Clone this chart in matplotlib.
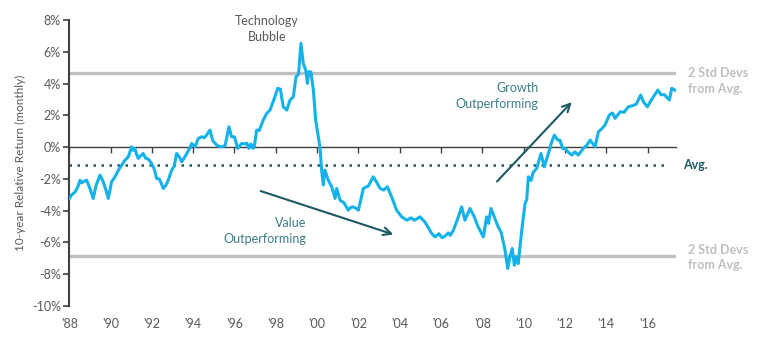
import matplotlib.pyplot as plt
from matplotlib.ticker import FuncFormatter

# ------------------------------
# Data (decimal year, % relative return)
# ------------------------------
dates = [
    1988.00, 1988.12, 1988.28, 1988.40, 1988.52, 1988.60, 1988.68, 1988.84, 1989.00, 1989.16,
    1989.30, 1989.49, 1989.65, 1989.80, 1989.89, 1990.05, 1990.20, 1990.38, 1990.55, 1990.70,
    1990.86, 1991.02, 1991.10, 1991.18, 1991.26, 1991.34, 1991.45, 1991.58, 1991.70, 1991.82,
    1991.99, 1992.12, 1992.23, 1992.35, 1992.45, 1992.55, 1992.68, 1992.79, 1992.96, 1993.08,
    1993.20, 1993.32, 1993.44, 1993.56, 1993.69, 1993.82, 1993.93, 1994.09, 1994.25, 1994.41,
    1994.55, 1994.65, 1994.81, 1994.95, 1995.14, 1995.25, 1995.38, 1995.55, 1995.73, 1995.86,
    1996.00, 1996.15, 1996.35, 1996.52, 1996.60, 1996.70, 1996.80, 1996.90, 1996.97, 1997.07,
    1997.20, 1997.39, 1997.56, 1997.72, 1997.93, 1998.09, 1998.22, 1998.36, 1998.53, 1998.69,
    1998.85, 1998.98, 1999.10, 1999.22, 1999.33, 1999.45, 1999.53, 1999.60, 1999.70, 1999.82,
    1999.93, 2000.06, 2000.14, 2000.22, 2000.30, 2000.38, 2000.54, 2000.71, 2000.87, 2000.95,
    2001.11, 2001.30, 2001.51, 2001.62, 2001.75, 2001.88, 2002.00, 2002.24, 2002.48, 2002.72,
    2002.88, 2003.05, 2003.22, 2003.40, 2003.61, 2003.85, 2004.10, 2004.34, 2004.55, 2004.70,
    2004.85, 2004.98, 2005.22, 2005.40, 2005.55, 2005.71, 2005.90, 2006.05, 2006.19, 2006.35,
    2006.45, 2006.60, 2006.84, 2007.00, 2007.16, 2007.40, 2007.58, 2007.80, 2008.05, 2008.21,
    2008.30, 2008.42, 2008.58, 2008.77, 2008.92, 2009.10, 2009.23, 2009.33, 2009.45, 2009.55,
    2009.64, 2009.74, 2009.91, 2010.07, 2010.15, 2010.23, 2010.36, 2010.46, 2010.63, 2010.84,
    2011.00, 2011.20, 2011.36, 2011.49, 2011.65, 2011.76, 2011.90, 2012.00, 2012.15, 2012.33,
    2012.48, 2012.65, 2012.89, 2013.05, 2013.22, 2013.46, 2013.62, 2013.78, 2013.94, 2014.15,
    2014.30, 2014.43, 2014.67, 2014.87, 2015.07, 2015.25, 2015.45, 2015.67, 2015.80, 2015.99,
    2016.20, 2016.50, 2016.65, 2016.82, 2017.06, 2017.17, 2017.33,
]
rel_return = [
    -3.23, -3.00, -2.82, -2.55, -2.08, -2.25, -2.18, -2.08, -2.60, -3.23,
    -2.40, -1.76, -2.20, -2.80, -3.23, -2.18, -1.90, -1.45, -1.10, -0.82,
    -0.61, 0.02, -0.20, -0.08, -0.45, -0.71, -0.55, -0.40, -0.70, -0.75,
    -1.03, -1.40, -1.97, -2.00, -2.25, -2.60, -2.40, -2.08, -1.45, -1.20,
    -0.40, -0.60, -0.92, -0.70, -0.40, -0.10, 0.23, 0.02, 0.55, 0.65,
    0.60, 0.76, 1.07, 0.40, 0.13, 0.05, 0.02, 0.10, 1.28, 0.65,
    0.65, -0.08, 0.23, 0.20, 0.25, -0.08, 0.20, -0.08, 0.10, 1.07,
    1.05, 1.70, 2.12, 2.33, 3.07, 3.70, 3.65, 2.54, 2.33, 2.96,
    3.17, 4.43, 4.60, 6.53, 5.27, 4.85, 4.01, 4.74, 4.74, 3.59,
    1.70, 0.65, 0.00, -1.45, -2.39, -1.45, -2.08, -2.50, -3.23, -2.60,
    -3.34, -3.50, -3.97, -3.80, -3.76, -3.85, -3.97, -2.60, -2.45, -1.87,
    -2.20, -2.60, -2.70, -2.50, -3.13, -3.97, -4.39, -4.60, -4.45, -4.60,
    -4.50, -4.39, -4.71, -5.10, -5.44, -5.65, -5.45, -5.70, -5.61, -5.40,
    -5.55, -5.23, -4.39, -3.76, -4.60, -3.86, -4.30, -5.02, -5.65, -4.39,
    -4.80, -3.86, -4.40, -5.02, -5.40, -6.49, -7.64, -6.90, -6.38, -7.43,
    -6.90, -7.33, -5.23, -3.55, -3.30, -1.87, -2.10, -1.60, -1.34, -0.40,
    -1.24, -0.40, 0.33, 0.76, 0.45, 0.44, -0.10, -0.08, -0.30, -0.50,
    -0.30, -0.50, -0.08, 0.10, 0.44, 0.02, 0.96, 1.15, 1.39, 2.02,
    2.15, 1.81, 2.22, 2.20, 2.54, 2.60, 2.70, 3.28, 2.85, 2.54,
    3.00, 3.59, 3.30, 3.30, 2.96, 3.70, 3.59,
]

avg = -1.12
upper_2sd = 4.64
lower_2sd = -6.87

year_ticks = list(range(1988, 2017, 2))
year_labels = ["'%02d" % (y % 100) for y in year_ticks]

# ------------------------------
# Style
# ------------------------------
plt.rcParams["font.family"] = ["Lato", "DejaVu Sans"]
blue = "#14b2e8"
teal_dark = "#1e5961"
teal_text = "#3b7d84"
grey_text = "#595959"
grey_line = "#bfbfbf"
axis_col = "#404040"

fig = plt.figure(figsize=(7.57, 3.38), dpi=100)
ax = fig.add_axes([0.0915, 0.0947, 0.801, 0.846])

ax.set_xlim(1988, 2017.36)
ax.set_ylim(-10, 8)

# reference lines
ax.axhline(upper_2sd, color=grey_line, lw=2.4, zorder=1)
ax.axhline(lower_2sd, color=grey_line, lw=2.4, zorder=1)
ax.axhline(avg, color=teal_dark, lw=1.8, ls=(0, (1, 2.2)), xmax=0.985, zorder=1)

# main series
ax.plot(dates, rel_return, color=blue, lw=2.2, zorder=3, solid_joinstyle="round")

# axes styling: x axis crosses at 0%, labels kept at the bottom
for side in ["top", "right"]:
    ax.spines[side].set_visible(False)
ax.spines["left"].set_color(axis_col)
ax.spines["left"].set_linewidth(1.5)
ax.spines["bottom"].set_position(("data", 0))
ax.spines["bottom"].set_color(axis_col)
ax.spines["bottom"].set_linewidth(1.0)

ax.set_yticks(range(-10, 9, 2))
ax.yaxis.set_major_formatter(FuncFormatter(lambda v, p: "%d%%" % v))
ax.tick_params(axis="y", direction="out", length=4, width=1.2, color=axis_col,
               labelsize=9, labelcolor=grey_text, pad=2)

ax.set_xticks(year_ticks)
ax.tick_params(axis="x", direction="out", length=4, width=1, color=axis_col,
               labelbottom=False)

sec = ax.secondary_xaxis("bottom")
sec.set_xticks(year_ticks)
sec.set_xticklabels(year_labels)
sec.tick_params(axis="x", length=0, labelsize=9, labelcolor=grey_text, pad=9)
sec.spines["bottom"].set_visible(False)

ax.set_ylabel("10-year Relative Return (monthly)", fontsize=8.5, color=grey_text, labelpad=4)

# annotations
ax.text(1997.56, 7.45, "Technology\nBubble", ha="center", va="center",
        fontsize=9, color=grey_text, linespacing=1.35)
ax.text(1999.46, -5.29, "Value\nOutperforming", ha="right", va="center",
        fontsize=9, color=teal_text, linespacing=1.35)
ax.text(2010.71, 3.23, "Growth\nOutperforming", ha="right", va="center",
        fontsize=9, color=teal_text, linespacing=1.35)

arrow = dict(arrowstyle="->", color=teal_dark, lw=1.5, mutation_scale=14)
ax.annotate("", xy=(2003.82, -5.55), xytext=(1997.14, -2.71), arrowprops=arrow)
ax.annotate("", xy=(2012.42, 2.96), xytext=(2008.62, -2.29), arrowprops=arrow)

# right-hand labels
ax.text(2017.94, 4.15, "2 Std Devs\nfrom Avg.", ha="left", va="center", fontsize=9,
        color=grey_line, fontweight="bold", linespacing=1.35, clip_on=False)
ax.text(2017.94, -6.96, "2 Std Devs\nfrom Avg.", ha="left", va="center", fontsize=9,
        color=grey_line, fontweight="bold", linespacing=1.35, clip_on=False)
ax.text(2017.73, avg, "Avg.", ha="left", va="center", fontsize=9,
        color=teal_dark, fontweight="bold", clip_on=False)

fig.savefig("out.png", dpi=100)
